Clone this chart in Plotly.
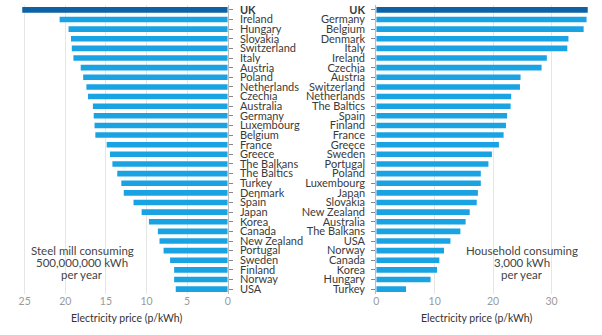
import plotly.graph_objects as go

# Industrial tariff: steel mill consuming 500,000,000 kWh per year (p/kWh)
steel_countries = ["UK", "Ireland", "Hungary", "Slovakia", "Switzerland", "Italy", "Austria",
                   "Poland", "Netherlands", "Czechia", "Australia", "Germany", "Luxembourg",
                   "Belgium", "France", "Greece", "The Balkans", "The Baltics", "Turkey",
                   "Denmark", "Spain", "Japan", "Korea", "Canada", "New Zealand", "Portugal",
                   "Sweden", "Finland", "Norway", "USA"]
steel_prices = [25.3, 20.7, 19.6, 19.3, 19.2, 19.0, 18.1, 17.8, 17.4, 17.2, 16.6, 16.5, 16.4,
                16.3, 14.9, 14.5, 14.2, 13.6, 13.1, 12.8, 11.6, 10.6, 9.7, 8.6, 8.4, 7.9,
                7.1, 6.6, 6.6, 6.4]

# Domestic tariff: household consuming 3,000 kWh per year (p/kWh)
home_countries = ["UK", "Germany", "Belgium", "Denmark", "Italy", "Ireland", "Czechia",
                  "Austria", "Switzerland", "Netherlands", "The Baltics", "Spain", "Finland",
                  "France", "Greece", "Sweden", "Portugal", "Poland", "Luxembourg", "Japan",
                  "Slovakia", "New Zealand", "Australia", "The Balkans", "USA", "Norway",
                  "Canada", "Korea", "Hungary", "Turkey"]
home_prices = [36.2, 36.0, 35.5, 32.9, 32.7, 29.2, 28.3, 24.7, 24.6, 23.1, 23.0, 22.4, 22.2,
               21.8, 21.0, 19.8, 19.2, 17.9, 17.9, 17.4, 17.2, 16.0, 15.3, 14.4, 12.7, 11.6,
               10.8, 10.4, 9.3, 5.1]

left_ticks = [25, 20, 15, 10, 5, 0]
right_ticks = [0, 10, 20, 30]

steel_caption = ["Steel mill consuming", "500,000,000 kWh", "per year"]
home_caption = ["Household consuming", "3,000 kWh", "per year"]

LIGHT = "#1aa3e3"
DARK = "#0d62a6"
FONT = "Lato"
W, H = 602, 335


def colours(names):
    return [DARK if n == "UK" else LIGHT for n in names]


def labels(names):
    return ["<b>UK</b>" if n == "UK" else n for n in names]


def px_x(p):
    return p / W


def px_y(p):
    return 1 - p / H


fig = go.Figure()
fig.add_trace(go.Bar(x=steel_prices, y=steel_countries, orientation="h",
                     marker=dict(color=colours(steel_countries), line_width=0),
                     width=0.58, xaxis="x", yaxis="y", showlegend=False))
fig.add_trace(go.Bar(x=home_prices, y=home_countries, orientation="h",
                     marker=dict(color=colours(home_countries), line_width=0),
                     width=0.58, xaxis="x2", yaxis="y2", showlegend=False))

ydom = [px_y(294.6), px_y(3.1)]
grid = "#e6e6e6"
tickfont = dict(family=FONT, size=10.5, color="#9a9a9a")
catfont = dict(family=FONT, size=11, color="#3a3a3a")

fig.update_layout(
    width=W, height=H,
    margin=dict(l=0, r=0, t=0, b=0),
    paper_bgcolor="white", plot_bgcolor="white",
    bargap=0.4,
    xaxis=dict(domain=[px_x(10), px_x(227)], range=[26.45, 0], anchor="y",
               tickvals=left_ticks, showgrid=True, gridcolor=grid, gridwidth=1,
               zeroline=False, showline=False, ticks="", tickfont=tickfont),
    yaxis=dict(domain=ydom, anchor="x", side="right", type="category",
               categoryorder="array", categoryarray=steel_countries,
               tickvals=steel_countries, ticktext=labels(steel_countries),
               autorange="reversed", ticks="outside", ticklen=4, tickcolor="#888",
               ticklabelstandoff=5,
               showline=True, linecolor="#bbbbbb", linewidth=1,
               showgrid=False, tickfont=catfont),
    xaxis2=dict(domain=[px_x(377), px_x(598)], range=[0, 37.45], anchor="y2",
                tickvals=right_ticks, showgrid=True, gridcolor=grid, gridwidth=1,
                zeroline=False, showline=False, ticks="", tickfont=tickfont),
    yaxis2=dict(domain=ydom, anchor="x2", side="left", type="category",
                categoryorder="array", categoryarray=home_countries,
                tickvals=home_countries, ticktext=labels(home_countries),
                autorange="reversed", ticks="outside", ticklen=4, tickcolor="#888",
                ticklabelstandoff=4,
                showline=True, linecolor="#bbbbbb", linewidth=1,
                showgrid=False, tickfont=catfont),
)

# Axis titles
for cx in (125, 479):
    fig.add_annotation(text="Electricity price (p/kWh)", x=px_x(cx), y=px_y(319),
                       xref="paper", yref="paper", xanchor="center", yanchor="middle",
                       showarrow=False,
                       font=dict(family=FONT, size=10.5, color="#333"))

# Panel captions, one line at a time for tight leading
for cx, lines in ((80, steel_caption), (524, home_caption)):
    for i, line in enumerate(lines):
        fig.add_annotation(text=line, x=px_x(cx), y=px_y(251 + 12 * i),
                           xref="paper", yref="paper", xanchor="center",
                           yanchor="middle", showarrow=False,
                           font=dict(family=FONT, size=11.5, color="#444"))

fig.write_html("out.html")
